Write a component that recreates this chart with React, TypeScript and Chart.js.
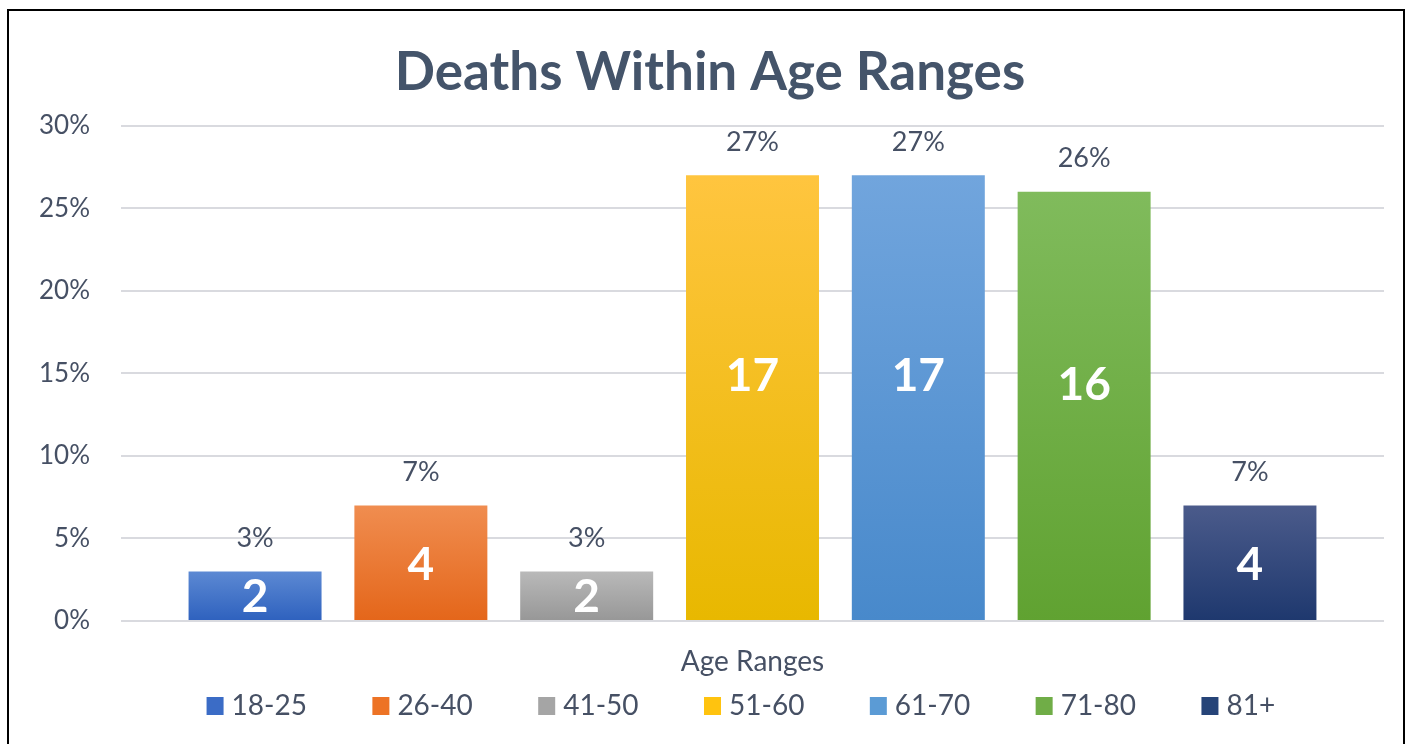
import React, { useEffect, useRef } from "react";
import { Chart, registerables } from "chart.js";

Chart.register(...registerables);

const categories = ["Age Ranges"];
const seriesLabels = ["18-25", "26-40", "41-50", "51-60", "61-70", "71-80", "81+"];
const percentValues = [3, 7, 3, 27, 27, 26, 7];
const deathCounts = [2, 4, 2, 17, 17, 16, 4];
const yTickValues = [0, 5, 10, 15, 20, 25, 30];

const topColors = ["#5C89D3", "#F08D50", "#B9B9B9", "#FFC53F", "#71A5DD", "#80BB5C", "#4B5B8B"];
const bottomColors = ["#2E61BE", "#E4661A", "#979797", "#E8B800", "#4889CB", "#60A231", "#1E386E"];
const legendColors = ["#3B6CC6", "#ED7325", "#A5A5A5", "#FFC30F", "#5B9BD5", "#70AD47", "#264478"];

const FONT = "Lato, 'Open Sans', sans-serif";
const TEXT_COLOR = "#465064";
const TITLE_COLOR = "#44546A";

const valueLabelsPlugin = {
  id: "valueLabels",
  afterDatasetsDraw(chart: any) {
    const { ctx } = chart;
    const ys = chart.scales.y;
    chart.data.datasets.forEach((_ds: any, i: number) => {
      const meta = chart.getDatasetMeta(i);
      meta.data.forEach((bar: any) => {
        const v = percentValues[i];
        ctx.save();
        ctx.textAlign = "center";
        ctx.textBaseline = "middle";
        ctx.font = `27px ${FONT}`;
        ctx.fillStyle = TEXT_COLOR;
        ctx.fillText(`${v}%`, bar.x, bar.y - 33);
        ctx.font = `bold 46px ${FONT}`;
        ctx.fillStyle = "#FFFFFF";
        const labelValue = v >= 10 ? v * 0.55 : v * 0.48;
        ctx.fillText(String(deathCounts[i]), bar.x, ys.getPixelForValue(labelValue));
        ctx.restore();
      });
    });
  },
};

const slotLegendPlugin = {
  id: "slotLegend",
  afterDraw(chart: any) {
    const { ctx, chartArea } = chart;
    const boxTop = chartArea.bottom + 76;
    ctx.save();
    ctx.font = `28px ${FONT}`;
    ctx.textAlign = "left";
    ctx.textBaseline = "middle";
    seriesLabels.forEach((label, i) => {
      const bar: any = chart.getDatasetMeta(i).data[0];
      if (!bar) return;
      const left = bar.x - bar.width / 2 + 18;
      ctx.fillStyle = legendColors[i];
      ctx.fillRect(left, boxTop, 17, 18);
      ctx.fillStyle = TEXT_COLOR;
      ctx.fillText(label, left + 25, boxTop + 9);
    });
    ctx.restore();
  },
};

export default function App() {
  const canvasRef = useRef<HTMLCanvasElement | null>(null);

  useEffect(() => {
    if (!canvasRef.current) return;
    const chart = new Chart(canvasRef.current, {
      type: "bar",
      data: {
        labels: categories,
        datasets: seriesLabels.map((label, i) => ({
          label,
          data: [percentValues[i]],
          backgroundColor: (c: any) => {
            const ch = c.chart;
            if (!ch.chartArea || c.type !== "data" || !ch.scales.y) return legendColors[i];
            const ys = ch.scales.y;
            const top = ys.getPixelForValue(c.raw as number);
            const bottom = ys.getPixelForValue(0);
            const g = ch.ctx.createLinearGradient(0, top, 0, bottom);
            g.addColorStop(0, topColors[i]);
            g.addColorStop(1, bottomColors[i]);
            return g;
          },
          borderWidth: 0,
          categoryPercentage: 0.919,
          barPercentage: 0.802,
        })),
      },
      options: {
        responsive: false,
        animation: false,
        layout: { padding: { left: 36, right: 23, top: 10, bottom: 60 } },
        plugins: {
          title: {
            display: true,
            text: "Deaths Within Age Ranges",
            color: TITLE_COLOR,
            font: { family: FONT, size: 53, weight: "bold" },
            padding: { top: 31, bottom: 21 },
          },
          legend: { display: false },
          tooltip: { enabled: false },
        },
        scales: {
          x: {
            grid: { display: false, drawTicks: false },
            border: { display: false },
            ticks: { color: TEXT_COLOR, font: { family: FONT, size: 28 }, padding: 24 },
            afterFit: (s: any) => {
              s.height = 63;
            },
          },
          y: {
            min: 0,
            max: 30,
            grid: { color: "#D9DADF", lineWidth: 2, drawTicks: false },
            border: { display: false },
            ticks: {
              color: TEXT_COLOR,
              font: { family: FONT, size: 26 },
              padding: 31,
              callback: (v: any) => `${v}%`,
            },
            afterBuildTicks: (s: any) => {
              s.ticks = yTickValues.map((v) => ({ value: v }));
            },
            afterFit: (s: any) => {
              s.width = 85;
            },
          },
        },
      },
      plugins: [valueLabelsPlugin, slotLegendPlugin],
    });
    return () => chart.destroy();
  }, []);

  return (
    <div style={{ position: "fixed", left: 0, top: 0, width: 1407, height: 744, background: "#fff", overflow: "hidden" }}>
      <canvas ref={canvasRef} width={1407} height={744} style={{ position: "absolute", left: 0, top: 0, width: 1407, height: 744 }} />
      <div
        style={{
          position: "absolute",
          left: 7,
          top: 9,
          width: 1398,
          height: 800,
          boxSizing: "border-box",
          border: "2.5px solid #000",
          pointerEvents: "none",
        }}
      />
    </div>
  );
}
